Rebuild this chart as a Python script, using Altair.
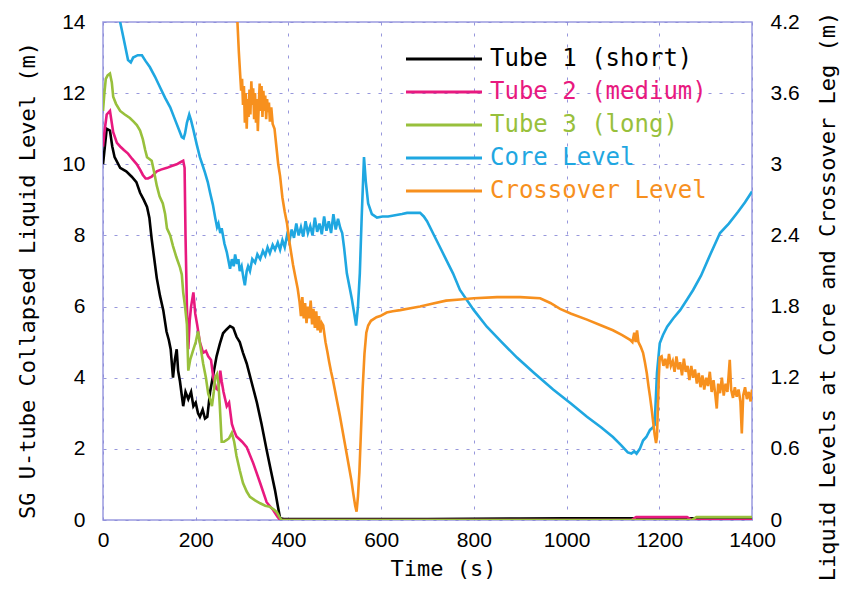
import altair as alt
import pandas as pd

# ---------------- data ----------------
t1_time = [0, 4, 8, 15, 20, 25, 37, 50, 62, 72, 80, 88, 95, 100, 105, 110, 116, 123, 130, 137,
           142, 146, 151, 155, 159, 162, 166, 170, 173, 178, 184, 190, 195, 200, 205, 209, 215,
           220, 225, 231, 238, 245, 252, 259, 266, 274, 281, 288, 295, 302, 310, 320, 332, 342,
           353, 362, 371, 377, 382, 390, 500, 700, 900, 1000, 1100, 1200, 1300, 1400]
t1_level = [10.0, 10.5, 11.0, 10.95, 10.5, 10.2, 9.9, 9.8, 9.65, 9.5, 9.2, 9.0, 8.8, 8.5, 7.9,
            7.4, 6.8, 6.3, 5.9, 5.3, 5.06, 4.8, 4.0, 4.5, 4.8, 4.2, 3.9, 3.5, 3.2, 3.6, 3.4, 3.6,
            3.2, 3.3, 3.0, 2.9, 3.1, 2.85, 2.9, 3.6, 4.1, 4.6, 4.95, 5.25, 5.35, 5.45, 5.4, 5.15,
            5.0, 4.7, 4.4, 3.9, 3.3, 2.7, 1.97, 1.4, 0.84, 0.4, 0.05, 0.03, 0.03, 0.03, 0.04,
            0.05, 0.05, 0.05, 0.05, 0.05]

t2_time = [0, 4, 8, 15, 22, 30, 37, 45, 54, 63, 73, 80, 86, 92, 97, 105, 116, 125, 138, 148,
           159, 166, 173, 176, 178, 181, 184, 187, 190, 195, 199, 203, 209, 216, 222, 227, 233,
           238, 244, 249, 253, 256, 260, 267, 272, 278, 283, 288, 300, 310, 324, 339, 353, 367,
           376, 382, 600, 1000, 1140, 1150, 1260, 1270, 1400]
t2_level = [10.5, 11.0, 11.4, 11.5, 10.9, 10.6, 10.5, 10.4, 10.3, 10.15, 10.0, 9.85, 9.7, 9.6,
            9.6, 9.65, 9.8, 9.85, 9.9, 9.95, 10.0, 10.05, 10.1, 9.9, 8.0, 6.0, 4.8, 5.6, 6.0,
            6.4, 5.8, 5.5, 5.0, 4.7, 4.75, 4.6, 4.5, 4.0, 3.7, 3.65, 4.2, 3.9, 3.6, 3.2, 3.3,
            2.7, 2.5, 2.35, 2.2, 2.05, 1.6, 1.04, 0.5, 0.28, 0.1, 0.0, 0.0, 0.0, 0.0, 0.08,
            0.08, 0.0, 0.0]

t3_time = [0, 3, 6, 10, 15, 19, 22, 28, 37, 47, 58, 66, 73, 80, 86, 91, 95, 100, 105, 110,
           116, 122, 129, 134, 138, 145, 151, 158, 166, 170, 173, 177, 181, 184, 188, 195, 200,
           205, 210, 216, 222, 227, 231, 235, 239, 242, 246, 249, 252, 256, 261, 267, 272, 278,
           283, 288, 295, 302, 310, 317, 328, 339, 350, 360, 368, 375, 380, 385, 800, 1270,
           1280, 1400]
t3_level = [11.5, 12.0, 12.4, 12.5, 12.55, 12.3, 11.9, 11.7, 11.5, 11.4, 11.3, 11.2, 11.1,
            10.95, 10.7, 10.4, 10.2, 10.15, 10.1, 9.8, 9.4, 9.1, 8.9, 8.6, 8.2, 8.0, 7.7, 7.4,
            7.1, 6.9, 6.4, 6.0, 5.5, 4.2, 4.5, 4.8, 5.0, 5.3, 4.9, 4.4, 4.0, 3.55, 3.4, 3.2,
            3.6, 4.0, 4.1, 3.85, 3.2, 2.2, 2.2, 2.25, 2.3, 2.45, 2.2, 1.8, 1.4, 1.04, 0.8,
            0.65, 0.55, 0.47, 0.4, 0.37, 0.3, 0.22, 0.1, 0.0, 0.0, 0.0, 0.08, 0.08]

core_time = [25, 37, 45, 54, 60, 65, 75, 84, 92, 101, 112, 123, 134, 145, 157, 170, 174, 177,
             181, 186, 190, 195, 202, 209, 215, 220, 226, 231, 237, 242, 246, 249, 253, 256,
             262, 267, 271, 274, 278, 282, 285, 289, 292, 295, 299, 303, 306, 310, 313, 317,
             322, 328, 333, 339, 345, 350, 355, 360, 366, 371, 377, 382, 387, 392, 397, 402,
             407, 412, 417, 422, 427, 432, 437, 442, 447, 452, 457, 462, 467, 472, 477, 482,
             487, 492, 497, 502, 507, 512, 516, 520, 526, 532, 537, 542, 546, 550, 554, 558,
             563, 567, 572, 580, 591, 603, 615, 630, 645, 656, 670, 684, 692, 699, 713, 727,
             741, 755, 770, 800, 828, 860, 893, 930, 971, 1010, 1044, 1075, 1100, 1118, 1132,
             1140, 1146, 1151, 1158, 1165, 1172, 1180, 1186, 1190, 1195, 1201, 1208, 1217,
             1230, 1245, 1260, 1273, 1290, 1310, 1331, 1350, 1370, 1385, 1400]
core_level = [4.35, 4.2, 4.05, 3.88, 3.86, 3.9, 3.92, 3.92, 3.87, 3.82, 3.74, 3.65, 3.56,
              3.48, 3.36, 3.23, 3.22, 3.26, 3.35, 3.42, 3.37, 3.29, 3.17, 3.06, 2.99, 2.93,
              2.85, 2.76, 2.66, 2.55, 2.47, 2.5, 2.42, 2.46, 2.33, 2.26, 2.18, 2.12, 2.2, 2.14,
              2.24, 2.16, 2.2, 2.1, 2.14, 2.04, 1.98, 2.1, 2.14, 2.1, 2.2, 2.17, 2.24, 2.2,
              2.27, 2.23, 2.3, 2.25, 2.32, 2.28, 2.34, 2.28, 2.36, 2.3, 2.4, 2.35, 2.45, 2.38,
              2.5, 2.4, 2.47, 2.39, 2.52, 2.42, 2.48, 2.4, 2.55, 2.43, 2.5, 2.41, 2.56, 2.44,
              2.52, 2.42, 2.58, 2.45, 2.54, 2.46, 2.42, 2.3, 2.08, 1.96, 1.86, 1.74, 1.64,
              1.8, 2.08, 2.55, 3.06, 2.85, 2.67, 2.58, 2.55, 2.56, 2.56, 2.57, 2.58, 2.59,
              2.59, 2.59, 2.56, 2.52, 2.41, 2.3, 2.19, 2.08, 1.94, 1.77, 1.63, 1.5, 1.37,
              1.24, 1.1, 0.98, 0.87, 0.78, 0.7, 0.63, 0.57, 0.56, 0.58, 0.56, 0.6, 0.67, 0.7,
              0.76, 0.78, 0.8, 1.24, 1.49, 1.56, 1.63, 1.7, 1.77, 1.86, 1.94, 2.06, 2.24,
              2.42, 2.5, 2.6, 2.68, 2.77]

cross_time = [285, 290, 293, 296, 298, 300, 302, 304, 306, 308, 310, 312, 314, 316, 318, 320,
              322, 324, 326, 328, 330, 332, 334, 336, 338, 340, 342, 344, 346, 348, 350, 352,
              354, 356, 358, 360, 363, 366, 370, 374, 378, 382, 387, 392, 397, 402, 406, 410,
              415, 420, 424, 427, 430, 433, 436, 439, 442, 445, 448, 451, 454, 457, 460, 463,
              466, 469, 472, 475, 480, 484, 488, 492, 496, 500, 505, 511, 516, 521, 526, 531,
              536, 540, 544, 547, 550, 553, 556, 560, 564, 568, 572, 578, 590, 598, 612, 625,
              641, 669, 684, 705, 740, 770, 800, 850, 900, 943, 965, 986, 1010, 1044, 1075,
              1100, 1120, 1137, 1142, 1146, 1149, 1152, 1155, 1160, 1165, 1169, 1173, 1177,
              1180, 1184, 1187, 1190, 1193, 1195, 1197, 1199, 1201, 1205, 1209, 1213, 1217,
              1221, 1225, 1229, 1233, 1237, 1241, 1245, 1249, 1253, 1257, 1261, 1265, 1269,
              1273, 1277, 1281, 1285, 1289, 1293, 1297, 1301, 1305, 1309, 1313, 1317, 1321,
              1324, 1327, 1331, 1335, 1339, 1343, 1347, 1352, 1355, 1359, 1363, 1367, 1371,
              1375, 1378, 1381, 1385, 1389, 1393, 1397, 1400]
cross_level = [4.5, 4.2, 3.95, 3.75, 3.62, 3.72, 3.5, 3.66, 3.35, 3.6, 3.3, 3.55, 3.4, 3.63,
               3.42, 3.7, 3.5, 3.64, 3.38, 3.6, 3.35, 3.55, 3.28, 3.5, 3.68, 3.45, 3.66, 3.4,
               3.62, 3.45, 3.58, 3.38, 3.55, 3.44, 3.52, 3.36, 3.48, 3.34, 3.3, 3.15, 3.0,
               2.9, 2.72, 2.6, 2.5, 2.35, 2.25, 2.15, 2.05, 1.95, 1.84, 1.72, 1.88, 1.7, 1.83,
               1.66, 1.8, 1.7, 1.85, 1.65, 1.78, 1.62, 1.76, 1.6, 1.72, 1.58, 1.66, 1.64,
               1.5, 1.42, 1.33, 1.25, 1.18, 1.1, 1.0, 0.88, 0.77, 0.66, 0.55, 0.44, 0.33,
               0.22, 0.12, 0.07, 0.2, 0.4, 0.7, 1.1, 1.4, 1.58, 1.64, 1.68, 1.71, 1.72, 1.75,
               1.76, 1.77, 1.79, 1.8, 1.82, 1.85, 1.86, 1.87, 1.88, 1.88, 1.87, 1.83, 1.78,
               1.74, 1.69, 1.64, 1.6, 1.56, 1.52, 1.5, 1.58, 1.5, 1.6, 1.5, 1.46, 1.41, 1.33,
               1.24, 1.12, 1.04, 0.92, 0.82, 0.72, 0.65, 0.7, 0.95, 1.2, 1.37, 1.38, 1.3, 1.36,
               1.28, 1.4, 1.3, 1.34, 1.25, 1.38, 1.27, 1.33, 1.22, 1.36, 1.25, 1.3, 1.18, 1.3,
               1.2, 1.27, 1.15, 1.24, 1.12, 1.22, 1.1, 1.2, 1.13, 1.25, 1.08, 1.18, 1.05, 0.94,
               1.15, 1.07, 1.2, 1.05, 1.15, 1.08, 1.35, 1.1, 1.03, 1.12, 1.04, 1.1, 1.0, 0.73,
               1.05, 1.12, 1.02, 1.08, 1.0, 1.1]

series_names = ["Tube 1 (short)", "Tube 2 (medium)", "Tube 3 (long)", "Core Level", "Crossover Level"]
series_colors = ["#000000", "#e8197f", "#98c03c", "#1fa7e1", "#f7901e"]

x_ticks = [0, 200, 400, 600, 800, 1000, 1200, 1400]
left_ticks = [0, 2, 4, 6, 8, 10, 12, 14]
right_ticks = [0, 0.6, 1.2, 1.8, 2.4, 3, 3.6, 4.2]

# ---------------- tables ----------------
tubes_df = pd.concat([
    pd.DataFrame({"time": t, "level": v, "series": n})
    for t, v, n in [(t1_time, t1_level, series_names[0]),
                    (t2_time, t2_level, series_names[1]),
                    (t3_time, t3_level, series_names[2])]
], ignore_index=True)
levels_df = pd.concat([
    pd.DataFrame({"time": core_time, "level": core_level, "series": series_names[3]}),
    pd.DataFrame({"time": cross_time, "level": cross_level, "series": series_names[4]}),
], ignore_index=True)

MONO = "DejaVu Sans Mono"
SANS = "Liberation Sans"

label_color_expr = "".join(
    f"datum.value === '{n}' ? '{c}' : " for n, c in zip(series_names[:-1], series_colors[:-1])
) + f"'{series_colors[-1]}'"

legend = alt.Legend(
    title=None, orient="none", legendX=329, legendY=25,
    symbolType="M-4,0H4", symbolSize=361, symbolStrokeWidth=3,
    labelFont=MONO, labelFontSize=24, labelOffset=34, labelLimit=500,
    labelColor=alt.ExprRef(expr=label_color_expr),
    rowPadding=9, padding=0,
)
color = alt.Color("series:N", scale=alt.Scale(domain=series_names, range=series_colors),
                  legend=legend)

x_enc = alt.X("time:Q", scale=alt.Scale(domain=[0, 1400], nice=False),
              axis=alt.Axis(values=x_ticks, title="Time (s)", grid=True, labelFlush=False,
                            format="d", labelPadding=9, titlePadding=8, titleX=340))

tubes = alt.Chart(tubes_df).mark_line(strokeWidth=2.6, clip=True).encode(
    x=x_enc,
    y=alt.Y("level:Q", scale=alt.Scale(domain=[0, 14], nice=False),
            axis=alt.Axis(orient="left", values=left_ticks, grid=True,
                          title="SG U-tube Collapsed Liquid Level (m)",
                          labelPadding=18, titlePadding=22, titleY=258)),
    color=color,
    order=alt.Order("series:N"),
)

levels = alt.Chart(levels_df).mark_line(strokeWidth=2.6, clip=True).encode(
    x=x_enc,
    y=alt.Y("level:Q", scale=alt.Scale(domain=[0, 4.2], nice=False),
            axis=alt.Axis(orient="right", values=right_ticks, grid=False, format="~g",
                          title="Liquid Levels at Core and Crossover Leg (m)",
                          titleAngle=270, titleBaseline="top",
                          labelPadding=18, titlePadding=18, titleY=274)),
    color=color,
)

chart = alt.layer(tubes, levels).resolve_scale(y="independent").properties(
    width=649, height=498,
    padding={"left": 95, "top": 14, "right": 91, "bottom": 61},
    autosize=alt.AutoSizeParams(type="none"),
    background="white",
).configure_view(
    stroke="#9a9ae0", strokeWidth=1.5, fill="white",
).configure_axis(
    domain=False, ticks=False, tickSize=0,
    gridColor="#8c8cd8", gridDash=[3, 8], gridWidth=1, gridOpacity=0.9,
    labelFont=SANS, labelFontSize=21, labelColor="black",
    titleFont=MONO, titleFontSize=22, titleFontWeight="normal", titleColor="black",
)

chart.save("out.html", embed_options={"renderer": "svg", "actions": False})
